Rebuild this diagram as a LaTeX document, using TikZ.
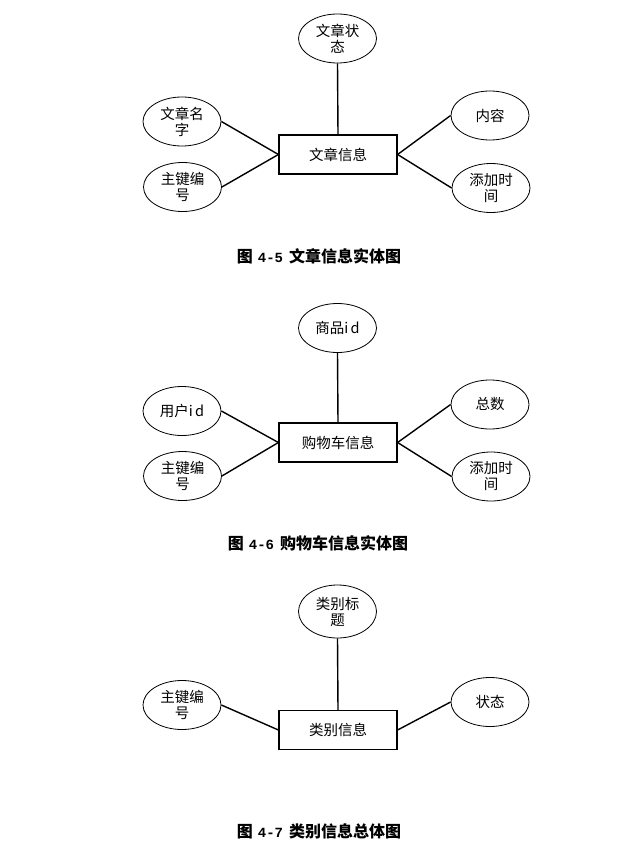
\documentclass[tikz,border=0pt]{standalone}
\usepackage{fontspec}
\setmainfont{Liberation Sans}
\newfontfamily\cjk{Noto Sans CJK SC}
\newfontfamily\capmono{Liberation Mono}
\usetikzlibrary{shapes.geometric}
\newcommand{\capnum}[1]{\hspace{5pt}{\capmono\bfseries\fontsize{14}{18}\selectfont #1}\hspace{6pt}}
\begin{document}
\begin{tikzpicture}[x=1pt,y=-1pt,
  attr/.style={ellipse, draw, line width=0.8pt, minimum width=78pt, minimum height=49pt, inner sep=0pt, align=center, font=\cjk\fontsize{14.5}{16}\selectfont},
  ent/.style={rectangle, draw, line width=1.2pt, minimum width=118pt, minimum height=39pt, inner sep=0pt, font=\cjk\fontsize{14.5}{16}\selectfont},
  link/.style={line width=1.4pt},
  captext/.style={font=\cjk\bfseries\fontsize{16}{18}\selectfont}]
\useasboundingbox[fill=white] (0,0) rectangle (634,848);

% ---------- Figure 4-5 ----------
\node[ent] (e1) at (338,154.5) {文章信息};
\node[attr] (a1s) at (337.5,38.5) {文章状\\态};
\node[attr] (a1n) at (182,121.5) {文章名\\字};
\node[attr] (a1k) at (182.5,187) {主键编\\号};
\node[attr] (a1c) at (490,115.5) {内容};
\node[attr] (a1t) at (491,188) {添加时\\间};
\draw[link] (a1s.south) -- (e1.north);
\draw[link] (a1n.east) -- (e1.west);
\draw[link] (a1k.east) -- (e1.west);
\draw[link] (e1.east) -- (a1c.west);
\draw[link] (e1.east) -- (a1t.west);
\node[captext] (c1) at (319,256) {图\capnum{4-5}文章信息实体图};

% ---------- Figure 4-6 ----------
\node[ent] (e2) at (338,442.5) {购物车信息};
\node[attr] (a2g) at (337.5,328) {商品i\,d};
\node[attr] (a2u) at (182,411) {用户i\,d};
\node[attr] (a2k) at (182.5,476) {主键编\\号};
\node[attr] (a2z) at (490,404.5) {总数};
\node[attr] (a2t) at (491,476.5) {添加时\\间};
\draw[link] (a2g.south) -- (e2.north);
\draw[link] (a2u.east) -- (e2.west);
\draw[link] (a2k.east) -- (e2.west);
\draw[link] (e2.east) -- (a2z.west);
\draw[link] (e2.east) -- (a2t.west);
\node[captext] (c2) at (318,543) {图\capnum{4-6}购物车信息实体图};

% ---------- Figure 4-7 ----------
\node[ent] (e3) at (338,730) {类别信息};
\node[attr, minimum height=53pt] (a3b) at (337.5,611.5) {类别标\\题};
\node[attr] (a3k) at (182,705) {主键编\\号};
\node[attr] (a3s) at (490,702) {状态};
\draw[link] (a3b.south) -- (e3.north);
\draw[link] (a3k.east) -- (e3.west);
\draw[link] (e3.east) -- (a3s.west);
\node[captext] (c3) at (319,831) {图\capnum{4-7}类别信息总体图};
\end{tikzpicture}
\end{document}
